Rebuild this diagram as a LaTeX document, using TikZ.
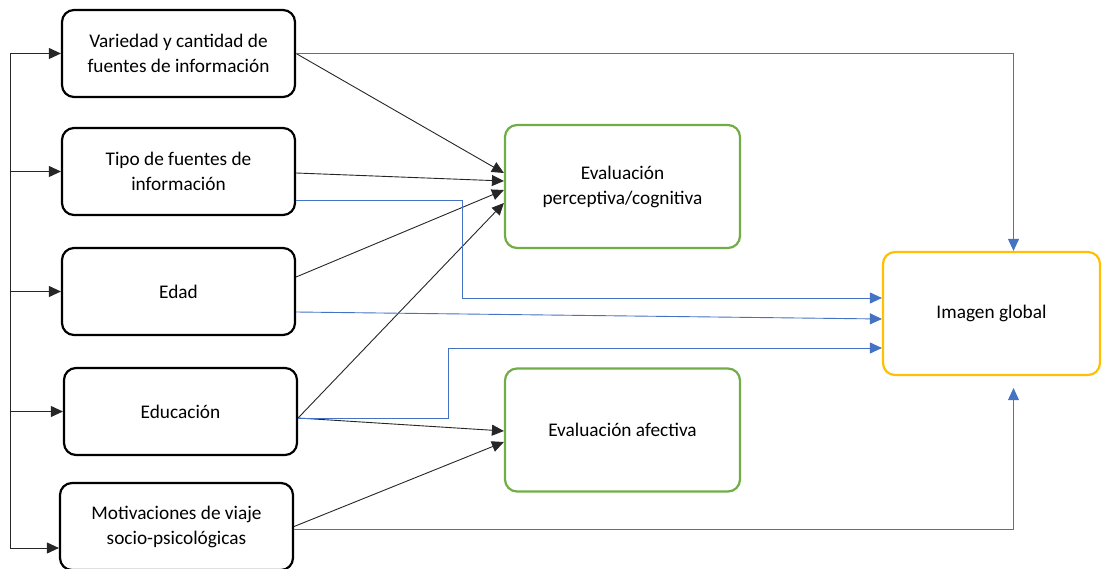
\documentclass[tikz,border=0pt]{standalone}
\usepackage{fontspec}
\setmainfont{Carlito}
\usetikzlibrary{arrows.meta}

\definecolor{linkblue}{HTML}{4472C4}
\definecolor{evalgreen}{HTML}{70AD47}
\definecolor{imgyellow}{HTML}{FFC000}

\begin{document}
\begin{tikzpicture}[x=1pt, y=-1pt,
  every node/.style={font=\fontsize{19.3}{25}\selectfont, align=center},
  box/.style={draw, rounded corners=12pt, line width=2.2pt, minimum width=233pt, minimum height=87pt},
  evalbox/.style={box, draw=evalgreen, minimum width=235pt, minimum height=123pt},
  imgbox/.style={box, draw=imgyellow, minimum width=217pt, minimum height=123pt},
  conn/.style={-{Triangle[length=12pt,width=11pt]}, line width=0.9pt, black!85},
  link/.style={-{Triangle[length=12pt,width=11pt]}, line width=0.9pt, linkblue}]

\useasboundingbox (0,0) rectangle (1102,569);

% Factors (left column)
\node[box] (variedad) at (178.5, 53.5) {Variedad y cantidad de\\fuentes de informaci\'on};
\node[box] (tipo) at (178.5, 171.5) {Tipo de fuentes de\\informaci\'on};
\node[box] (edad) at (178.5, 291.5) {Edad};
\node[box] (educacion) at (180.5, 411.5) {Educaci\'on};
\node[box] (motivaciones) at (176.5, 526.5) {Motivaciones de viaje\\socio-psicol\'ogicas};

% Evaluations
\node[evalbox] (perceptiva) at (622.5, 186.5) {Evaluaci\'on\\perceptiva/cognitiva};
\node[evalbox] (afectiva) at (622.5, 430) {Evaluaci\'on afectiva};

% Global image
\node[imgbox] (imagen) at (991.5, 313.5) {Imagen global};

% left line
\coordinate (bus) at (10, 0);
\coordinate (busend) at ([yshift=-21.5pt]motivaciones.west);
\draw[conn] (bus |- busend) |- (variedad.west);
\draw[conn] (bus |- busend) -- (busend);
\foreach \n in {tipo, edad, educacion}
  \draw[conn] (bus |- \n.west) -- (\n.west);

% black arrows to the evaluations
\draw[conn] (variedad.east) -- ([yshift=13.5pt]perceptiva.west);
\draw[conn] ([yshift=-1.5pt]tipo.east) -- ([yshift=5.5pt]perceptiva.west);
\draw[conn] ([yshift=14.5pt]edad.east) -- ([yshift=-3.5pt]perceptiva.west);
\draw[conn] ([yshift=-6.5pt]educacion.east) -- ([yshift=-16.5pt]perceptiva.west);
\draw[conn] ([yshift=-6.5pt]educacion.east) -- ([yshift=-1pt]afectiva.west);
\draw[conn] (motivaciones.east) -- ([yshift=-12pt]afectiva.west);

% blue arrows to the global image
\draw[link] (variedad.east) -| ([xshift=22pt]imagen.north);
\draw[link] ([yshift=-28.5pt]tipo.east) -- ++(166, 0) |- ([yshift=15.5pt]imagen.west);
\draw[link] ([yshift=-20.5pt]edad.east) -- ([yshift=-5.5pt]imagen.west);
\draw[link] ([yshift=-6.5pt]educacion.east) -- ++(150, 0) |- ([yshift=-34.5pt]imagen.west);
\draw[link] ([yshift=-2.5pt]motivaciones.east) -| ([xshift=22pt, yshift=-12pt]imagen.south);

\end{tikzpicture}
\end{document}
